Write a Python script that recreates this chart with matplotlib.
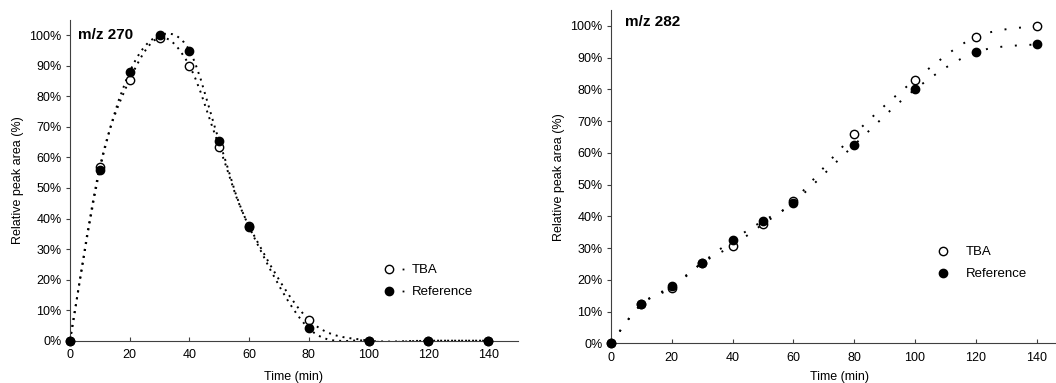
import matplotlib
matplotlib.use("Agg")
import matplotlib.pyplot as plt
import numpy as np
from matplotlib.path import Path
from matplotlib.patches import PathPatch
from matplotlib.lines import Line2D
from matplotlib.legend_handler import HandlerTuple
from matplotlib.ticker import PercentFormatter, MultipleLocator

plt.rcParams["font.family"] = ["Liberation Sans", "DejaVu Sans"]
plt.rcParams["font.size"] = 9

time = [0, 10, 20, 30, 40, 50, 60, 80, 100, 120, 140]

tba_270 = [0, 57, 85.5, 99.2, 90, 63.5, 37.5, 6.8, 0, 0, 0]
ref_270 = [0, 56, 88, 100, 95, 65.3, 37.2, 4, 0, 0, 0]

tba_282 = [0, 12.3, 17.5, 25.3, 30.8, 37.6, 44.8, 65.8, 83, 96.5, 100]
ref_282 = [0, 12.3, 18, 25.4, 32.5, 38.6, 44.3, 62.5, 80, 91.7, 94.2]

titles = ["m/z 270", "m/z 282"]


def smooth_path(x, y):
    # Excel-like smoothed line: cubic Bezier segments through the points
    p = np.column_stack([x, y]).astype(float)
    n = len(p)
    verts = [p[0]]
    codes = [Path.MOVETO]
    for i in range(n - 1):
        p0 = p[max(i - 1, 0)]
        p3 = p[min(i + 2, n - 1)]
        c1 = p[i] + (p[i + 1] - p0) / 6
        c2 = p[i + 1] - (p3 - p[i]) / 6
        verts += [c1, c2, p[i + 1]]
        codes += [Path.CURVE4] * 3
    return Path(verts, codes)


def panel(ax, tba, ref, title, title_xy, leg_xy, gap, leg_dot, xpad):
    for series in (tba, ref):
        patch = PathPatch(smooth_path(time, series), fill=False, edgecolor="black",
                          lw=1.4, linestyle=(0, (1, gap)), capstyle="butt")
        ax.add_patch(patch)
    ax.plot(time, tba, "o", ms=6, mfc="white", mec="black", mew=1, clip_on=False, zorder=3)
    ax.plot(time, ref, "o", ms=6, mfc="black", mec="black", mew=1, clip_on=False, zorder=4)

    ax.set_xlim(0, 150)
    ax.set_ylim(0, 105)
    ax.xaxis.set_major_locator(MultipleLocator(20))
    ax.yaxis.set_major_locator(MultipleLocator(10))
    ax.yaxis.set_major_formatter(PercentFormatter(decimals=0))
    ax.set_xlabel("Time (min)", labelpad=xpad)
    ax.set_ylabel("Relative peak area (%)", labelpad=4)
    for s in ["top", "right"]:
        ax.spines[s].set_visible(False)
    for s in ["left", "bottom"]:
        ax.spines[s].set_color("#404040")
    ax.tick_params(axis="y", direction="out", length=3, pad=3, color="#404040")
    ax.tick_params(axis="x", direction="in", length=3, pad=6, color="#404040")

    ax.text(*title_xy, title, transform=ax.transAxes, fontsize=11, fontweight="bold",
            va="center", ha="left")

    dot = Line2D([], [], ls="none", marker="s", ms=1.3 if leg_dot else 0,
                 mfc="black", mec="none")
    h_tba = (Line2D([], [], ls="none", marker="o", ms=6, mfc="white", mec="black"), dot)
    h_ref = (Line2D([], [], ls="none", marker="o", ms=6, mfc="black", mec="black"), dot)
    ax.legend([h_tba, h_ref], ["TBA", "Reference"],
              handler_map={tuple: HandlerTuple(ndivide=None, pad=0.2)},
              loc="upper left", bbox_to_anchor=leg_xy, frameon=False,
              borderpad=0, borderaxespad=0, handlelength=1.9, handletextpad=0.25,
              labelspacing=0.75, fontsize=9.5)


fig = plt.figure(figsize=(10.56, 3.83), dpi=100)
ax1 = fig.add_axes([70 / 1056, 1 - 340.7 / 383, 448 / 1056, 320.7 / 383])
ax2 = fig.add_axes([611 / 1056, 1 - 343.3 / 383, 456 / 1056, 333.3 / 383])

panel(ax1, tba_270, ref_270, titles[0], (0.018, 0.953), (0.699, 0.239), 2.6, True, 7.5)
panel(ax2, tba_282, ref_282, titles[1], (0.031, 0.965), (0.715, 0.292), 6.5, False, 5.5)

fig.savefig("out.png", dpi=100)
